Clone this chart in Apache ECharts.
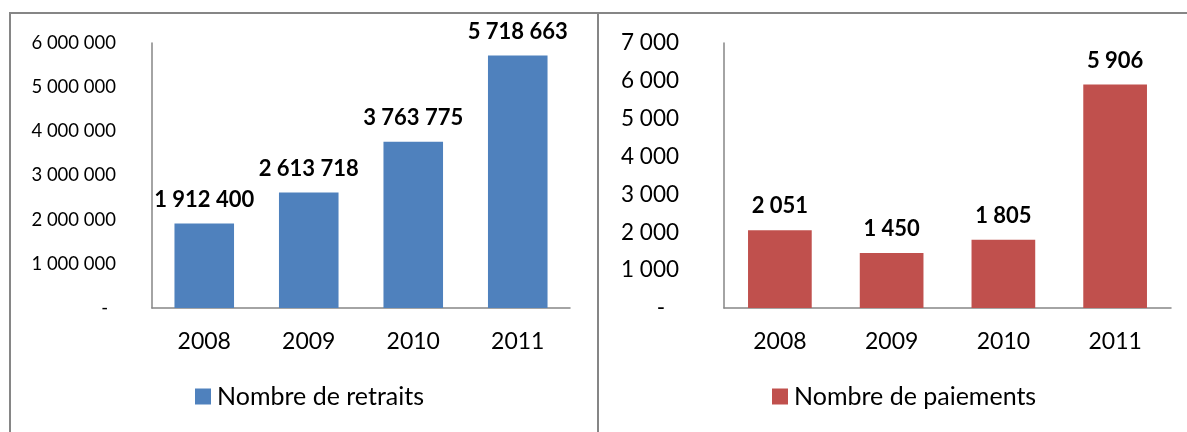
<!DOCTYPE html>
<html>
<head>
<meta charset="utf-8">
<script src="https://cdn.jsdelivr.net/npm/echarts@6/dist/echarts.min.js"></script>
<style>
  html, body { margin: 0; padding: 0; background: #fff; }
  #chart { width: 1187px; height: 432px; }
</style>
</head>
<body>
<div id="chart"></div>
<script>
// Années et séries
const years = ['2008', '2009', '2010', '2011'];
const retraits = [1912400, 2613718, 3763775, 5718663];
const paiements = [2051, 1450, 1805, 5906];
const retraitsName = 'Nombre de retraits';
const paiementsName = 'Nombre de paiements';

const FONT = 'Lato, "Open Sans", sans-serif';
const AXIS_GREY = '#868686';

// Séparateur de milliers : espace
function fmt(v) {
  return String(Math.round(v)).replace(/\B(?=(\d{3})+(?!\d))/g, ' ');
}

const chart = echarts.init(document.getElementById('chart'), null, { renderer: 'canvas' });

function yAxis(gridIndex, max, interval, size, margin, dashPad) {
  return {
    type: 'value', gridIndex, min: 0, max, interval,
    splitLine: { show: false },
    axisTick: { show: false },
    axisLine: { show: true, lineStyle: { color: AXIS_GREY, width: 1.5 } },
    axisLabel: {
      margin, color: '#000', fontFamily: FONT, fontSize: size,
      formatter: v => v === 0 ? '{z|-}' : fmt(v),
      rich: { z: { fontFamily: FONT, fontSize: size, color: '#000', padding: [0, dashPad, 0, 0] } }
    }
  };
}

function xAxis(gridIndex) {
  return {
    type: 'category', gridIndex, data: years,
    axisTick: { show: false },
    axisLine: { show: true, lineStyle: { color: AXIS_GREY, width: 1.5 } },
    axisLabel: { margin: 22, color: '#000', fontFamily: FONT, fontSize: 23 }
  };
}

function barSeries(name, data, idx, color) {
  return {
    name, type: 'bar', data, xAxisIndex: idx, yAxisIndex: idx,
    barWidth: '57%',
    itemStyle: { color },
    label: {
      show: true, position: 'top', distance: 13,
      color: '#000', fontWeight: 'bold', fontFamily: FONT, fontSize: 22,
      formatter: p => fmt(p.value)
    }
  };
}

function legend(name, left) {
  return {
    data: [name], left, top: 384, padding: 0,
    itemWidth: 16, itemHeight: 16, itemGap: 0, icon: 'rect',
    textStyle: { fontFamily: FONT, fontSize: 25, color: '#000', padding: [0, 0, 0, 1] }
  };
}

chart.setOption({
  animation: false,
  backgroundColor: '#fff',
  graphic: [
    { type: 'rect', shape: { x: 10, y: 13, width: 588, height: 500 },
      style: { fill: 'none', stroke: AXIS_GREY, lineWidth: 2 }, z: -1 },
    { type: 'rect', shape: { x: 598, y: 13, width: 620, height: 500 },
      style: { fill: 'none', stroke: AXIS_GREY, lineWidth: 2 }, z: -1 }
  ],
  grid: [
    { left: 152, right: 617, top: 43, bottom: 124 },
    { left: 724, right: 16, top: 43, bottom: 124 }
  ],
  xAxis: [xAxis(0), xAxis(1)],
  yAxis: [
    yAxis(0, 6000000, 1000000, 18.5, 36, 8),
    yAxis(1, 7000, 1000, 22.5, 45, 14)
  ],
  legend: [legend(retraitsName, 195), legend(paiementsName, 772)],
  series: [
    barSeries(retraitsName, retraits, 0, '#4F81BD'),
    barSeries(paiementsName, paiements, 1, '#C0504D')
  ]
});
</script>
</body>
</html>
